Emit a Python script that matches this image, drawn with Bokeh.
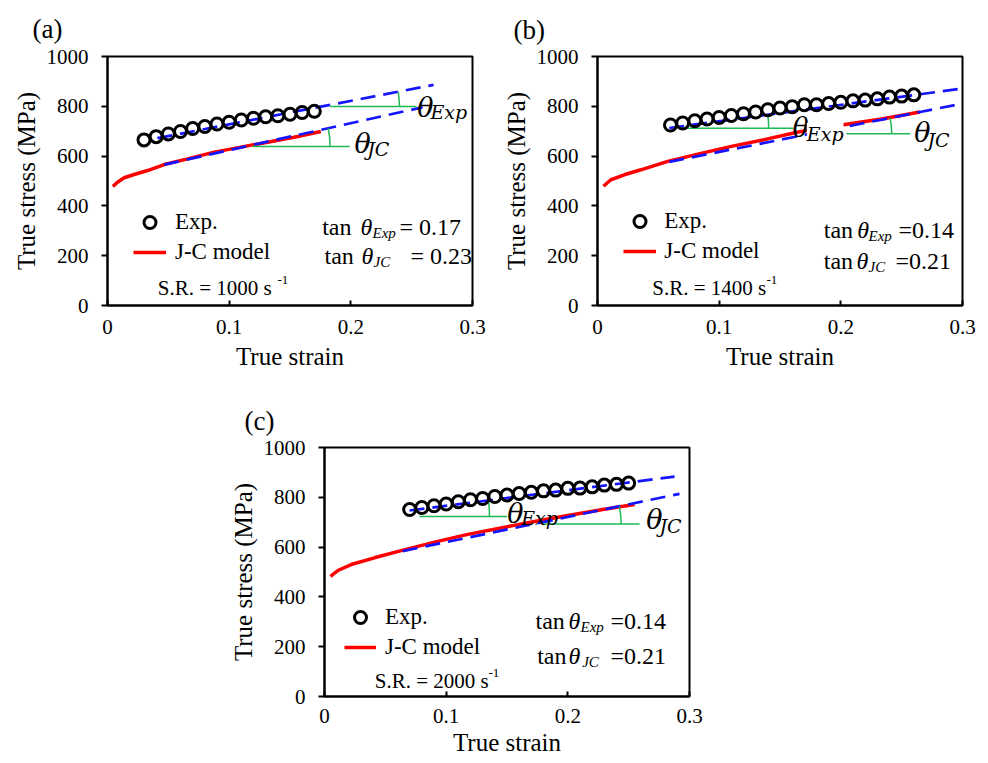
import math
from bokeh.plotting import figure
from bokeh.layouts import column, row
from bokeh.models import Range1d, FixedTicker, Label, Legend, LegendItem, Spacer
from bokeh.embed import file_html
from bokeh.resources import INLINE

# ---------------- data ----------------
x_ticks = [0, 0.1, 0.2, 0.3]
x_tick_labels = ["0", "0.1", "0.2", "0.3"]
y_ticks = [0, 200, 400, 600, 800, 1000]

# panel (a)  S.R. = 1000 1/s
exp_a_strain = [0.03, 0.04, 0.05, 0.06, 0.07, 0.08, 0.09, 0.10, 0.11, 0.12, 0.13, 0.14, 0.15, 0.16, 0.17]
exp_a_stress = [665, 678, 689, 699, 711, 719, 729, 736, 745, 752, 758, 762, 768, 775, 780]
jc_a_strain = [0.0044, 0.0082, 0.0137, 0.0219, 0.0329, 0.0466, 0.0658, 0.0877, 0.1096, 0.1315, 0.1534, 0.1753]
jc_a_stress = [478, 495, 513, 526, 542, 566, 589, 616, 636, 656, 676, 699]
fitexp_a_strain = [0.041, 0.268]
fitexp_a_stress = [672, 886]
fitjc_a_strain = [0.0466, 0.259]
fitjc_a_stress = [566, 796]
# angle markers: [level stress, x start, x end, arc x]
angexp_a = [799, 0.183, 0.254, 0.240]
angjc_a = [639, 0.119, 0.199, 0.183]

# panel (b)  S.R. = 1400 1/s
exp_b_strain = [0.06, 0.07, 0.08, 0.09, 0.10, 0.11, 0.12, 0.13, 0.14, 0.15, 0.16, 0.17, 0.18, 0.19, 0.20,
                0.21, 0.22, 0.23, 0.24, 0.25, 0.26]
exp_b_stress = [725, 733, 742, 749, 755, 763, 770, 777, 786, 793, 798, 806, 806, 811, 816, 822, 825, 830, 837, 841, 846]
jc_b_strain = [0.0049, 0.011, 0.022, 0.0357, 0.0577, 0.0824, 0.110, 0.137, 0.165, 0.206, 0.2335, 0.265]
jc_b_stress = [479, 505, 525, 545, 579, 608, 639, 666, 697, 729, 749, 777]
fitexp_b_strain = [0.059, 0.298]
fitexp_b_stress = [713, 870]
fitjc_b_strain = [0.059, 0.298]
fitjc_b_stress = [577, 809]
angexp_b = [712, 0.0670, 0.1607, 0.1407]
angjc_b = [690, 0.2047, 0.257, 0.2418]

# panel (c)  S.R. = 2000 1/s
exp_c_strain = [0.07, 0.08, 0.09, 0.10, 0.11, 0.12, 0.13, 0.14, 0.15, 0.16, 0.17, 0.18, 0.19, 0.20,
                0.21, 0.22, 0.23, 0.24, 0.25]
exp_c_stress = [751, 759, 766, 773, 782, 790, 795, 803, 809, 815, 820, 826, 829, 836, 837, 842, 849, 852, 857]
jc_c_strain = [0.0049, 0.011, 0.0219, 0.041, 0.063, 0.0904, 0.1178, 0.145, 0.1726, 0.200, 0.2274, 0.2548]
jc_c_stress = [482, 506, 530, 557, 586, 620, 651, 677, 703, 727, 750, 771]
fitexp_c_strain = [0.0699, 0.2877]
fitexp_c_stress = [747, 883]
fitjc_c_strain = [0.0644, 0.2918]
fitjc_c_stress = [584, 814]
angexp_c = [723, 0.078, 0.150, 0.1356]
angjc_c = [693, 0.179, 0.259, 0.2438]

panel_names = ["(a)", "(b)", "(c)"]
rates = ["1000", "1400", "2000"]
tan_exp = ["= 0.17", "=0.14", "=0.14"]
tan_jc = ["= 0.23", "=0.21", "=0.21"]

# ---------------- layout ----------------
FW, FH = 365, 249
SERIF = "Liberation Serif"
MATH = "DejaVu Serif"
RED = "#ff0000"
BLUE = "#1414ff"
GREEN = "#1db954"


def make_fig(bl, bt, br, bb, title, t_off, t_stand, xl_stand=14, xa_stand=6):
    p = figure(frame_width=FW, frame_height=FH,
               min_border_left=bl, min_border_top=bt, min_border_right=br, min_border_bottom=bb,
               x_range=Range1d(0, 0.3), y_range=Range1d(0, 1000),
               output_backend="svg", toolbar_location=None, title=title,
               x_axis_label="True strain", y_axis_label="True stress (MPa)")
    p.title.align = "left"
    p.title.vertical_align = "top"
    p.title.offset = t_off
    p.title.standoff = t_stand
    p.title.text_font = SERIF
    p.title.text_font_size = "27px"
    p.title.text_font_style = "normal"
    p.title.text_color = "black"
    p.xgrid.visible = False
    p.ygrid.visible = False
    p.outline_line_color = "black"
    p.outline_line_width = 2
    p.outline_line_alpha = 1
    p.background_fill_color = "white"
    p.border_fill_color = "white"
    for ax in (p.xaxis[0], p.yaxis[0]):
        ax.axis_line_width = 2
        ax.axis_line_color = "black"
        ax.major_tick_line_width = 2
        ax.major_tick_line_color = "black"
        ax.minor_tick_line_color = None
        ax.major_label_text_font = SERIF
        ax.major_label_text_font_size = "21px"
        ax.major_label_text_color = "black"
        ax.axis_label_text_font = SERIF
        ax.axis_label_text_font_size = "25px"
        ax.axis_label_text_font_style = "normal"
        ax.axis_label_text_color = "black"
    xa = p.xaxis[0]
    xa.ticker = FixedTicker(ticks=x_ticks)
    xa.major_label_overrides = {t: s for t, s in zip(x_ticks, x_tick_labels)}
    xa.major_tick_in = 5
    xa.major_tick_out = 0
    xa.major_label_standoff = xl_stand
    xa.axis_label_standoff = xa_stand
    ya = p.yaxis[0]
    ya.ticker = FixedTicker(ticks=y_ticks)
    ya.major_tick_in = 0
    ya.major_tick_out = 6
    ya.major_label_standoff = 13
    ya.axis_label_standoff = 4
    return p


def add_panel(p, frame, d):
    fl, ft = frame
    fb = ft + FH

    def dx(px):
        return (px - fl) / FW * 0.3

    def dy(py):
        return (fb - py) / FH * 1000

    def lab(px, py, text, size, font=SERIF, style="normal", bg=None):
        kw = {}
        if bg:
            kw = dict(background_fill_color=bg, background_fill_alpha=1)
        p.add_layout(Label(x=dx(px), y=dy(py), text=text, text_font=font,
                           text_font_size=size, text_font_style=style, text_color="black",
                           text_align="left", text_baseline="alphabetic", **kw))

    red = p.line(d["jc_x"], d["jc_y"], line_color=RED, line_width=3.5)
    for fx, fy in ((d["fe_x"], d["fe_y"]), (d["fj_x"], d["fj_y"])):
        p.line(fx, fy, line_color=BLUE, line_width=2.7, line_dash="15 8")
    # angle markers
    px_per_strain = FW / 0.3
    px_per_mpa = FH / 1000
    for ang, fx, fy in ((d["ae"], d["fe_x"], d["fe_y"]), (d["aj"], d["fj_x"], d["fj_y"])):
        level, xs, xe, xa = ang
        slope = (fy[1] - fy[0]) / (fx[1] - fx[0])
        xc = fx[0] + (level - fy[0]) / slope
        p.line([xs, xe], [level, level], line_color=GREEN, line_width=1.5)
        theta = math.atan(slope * px_per_mpa / px_per_strain)
        p.arc(x=[xc], y=[level], radius=(xa - xc) * px_per_strain, radius_units="screen",
              start_angle=0, end_angle=theta, line_color=GREEN, line_width=1.5)
    circ = p.scatter(d["ex"], d["ey"], marker="circle", size=12, fill_color=None,
                     line_color="black", line_width=3)

    lx, ltop, lw, lstand = d["legend"]
    leg = Legend(items=[LegendItem(label="Exp.", renderers=[circ]),
                        LegendItem(label="J-C model", renderers=[red])],
                 location=(lx - fl, fb - (ltop + 60)), padding=0, margin=0, spacing=0,
                 glyph_width=lw, glyph_height=30, label_height=30, label_standoff=lstand,
                 label_text_font=SERIF, label_text_font_size="23px", label_text_color="black",
                 background_fill_alpha=0, border_line_alpha=0)
    p.add_layout(leg)

    # theta labels on the fits
    bg = d["bg"]
    for (tx, ty, sx, sy, sub) in d["thetas"]:
        lab(tx, ty, "θ", "27px", MATH, "italic")
        lab(sx, sy, sub, "19px", MATH, "italic", bg if sub == "Exp" else None)
    # tan rows
    for (x0, base, xt, xs, sub, xr, rest) in d["tans"]:
        lab(x0, base, "tan", "24px")
        lab(xt, base, "θ", "24px", SERIF, "italic")
        lab(xs, base + 6, sub, "15px", SERIF, "italic")
        lab(xr, base, rest, "24px")
    # strain rate
    srx, sry, supx = d["sr"]
    lab(srx, sry, "S.R. = " + d["rate"] + "  s", "21px")
    lab(supx, sry - 8, "-1", "13px")


pa = make_fig(107, 56, 20, 70, panel_names[0], -75, 22)
add_panel(pa, (107, 56), dict(
    rate=rates[0],
    ex=exp_a_strain, ey=exp_a_stress, jc_x=jc_a_strain, jc_y=jc_a_stress,
    fe_x=fitexp_a_strain, fe_y=fitexp_a_stress, fj_x=fitjc_a_strain, fj_y=fitjc_a_stress,
    ae=angexp_a, aj=angjc_a,
    legend=(133, 206.7, 33, 9), bg=None,
    thetas=[(416.7, 106.7, 430, 111, "Exp"), (354, 142.7, 366.7, 148.3, "JC")],
    tans=[(321.7, 226.7, 360, 372, "Exp", 399, tan_exp[0]),
          (324, 255, 361, 373, "JC", 410, tan_jc[0])],
    sr=(157.3, 287.3, 277)))

pb = make_fig(105, 52, 14, 74, panel_names[1], -84, 20)
add_panel(pb, (597, 52), dict(
    rate=rates[1],
    ex=exp_b_strain, ey=exp_b_stress, jc_x=jc_b_strain, jc_y=jc_b_stress,
    fe_x=fitexp_b_strain, fe_y=fitexp_b_stress, fj_x=fitjc_b_strain, fj_y=fitjc_b_stress,
    ae=angexp_b, aj=angjc_b,
    legend=(623.3, 202.3, 33, 8), bg="white",
    thetas=[(792, 123.3, 806.3, 129.3, "Exp"), (913.7, 128.3, 927, 135, "JC")],
    tans=[(823.3, 225, 856.7, 868, "Exp", 898, tan_exp[1]),
          (823.3, 256.7, 856, 868, "JC", 895, tan_jc[1])],
    sr=(651.7, 283.3, 766)))

pc = make_fig(99, 72, 20, 66, panel_names[2], -80, 19, xl_stand=12, xa_stand=3)
add_panel(pc, (324, 447), dict(
    rate=rates[2],
    ex=exp_c_strain, ey=exp_c_stress, jc_x=jc_c_strain, jc_y=jc_c_stress,
    fe_x=fitexp_c_strain, fe_y=fitexp_c_stress, fj_x=fitjc_c_strain, fj_y=fitjc_c_stress,
    ae=angexp_c, aj=angjc_c,
    legend=(344, 601.7, 32, 9), bg=None,
    thetas=[(506.7, 512.7, 520.7, 517.3, "Exp"), (645.7, 519.3, 659, 525, "JC")],
    tans=[(535, 620, 568, 580, "Exp", 610, tan_exp[2]),
          (536.7, 655, 568, 581.7, "JC", 610, tan_jc[2])],
    sr=(374.3, 680.7, 488)))

layout = column(row(pa, pb), row(Spacer(width=225, height=10), pc))
open("out.html", "w").write(file_html(layout, INLINE))
